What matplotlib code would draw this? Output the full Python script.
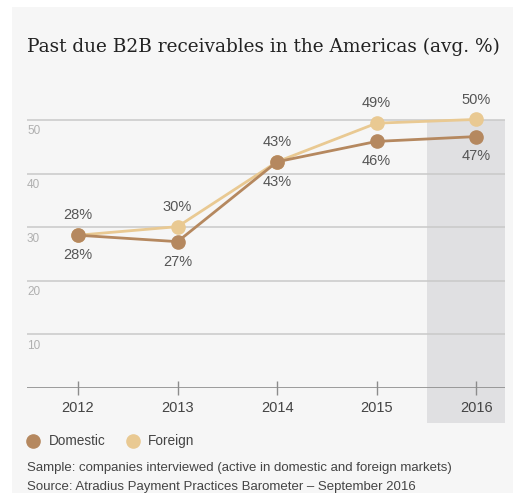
import matplotlib.pyplot as plt
from matplotlib.patches import Rectangle
from matplotlib.lines import Line2D

years = [2012, 2013, 2014, 2015, 2016]
domestic = [28.5, 27.3, 42.2, 46.0, 46.9]
foreign = [28.5, 30.1, 42.2, 49.4, 50.1]
domestic_labels = ['28%', '27%', '43%', '46%', '47%']
foreign_labels = ['28%', '30%', '43%', '49%', '50%']
yticks = [10, 20, 30, 40, 50]

title = 'Past due B2B receivables in the Americas (avg. %)'
note1 = 'Sample: companies interviewed (active in domestic and foreign markets)'
note2 = 'Source: Atradius Payment Practices Barometer \u2013 September 2016'

c_dom = '#b5885f'
c_for = '#e9c992'
bg = '#f6f6f6'
sans = ['Liberation Sans Narrow', 'Liberation Sans', 'DejaVu Sans']

W, H = 513, 493
fig = plt.figure(figsize=(W / 100, H / 100), dpi=100, facecolor='white')

# grey panel behind everything
fig.patches.append(Rectangle((12 / W, 0), 1 - 12 / W, 1 - 7 / H, transform=fig.transFigure,
                             facecolor=bg, edgecolor='none', zorder=-10))

ax = fig.add_axes([27 / W, (H - 388) / H, 478 / W, 327 / H])
ax.set_facecolor('none')
for s in ax.spines.values():
    s.set_visible(False)

ax.set_xlim(2011.487, 2016.29)
ax.set_ylim(0, 61)

# shaded current year
ax.add_patch(Rectangle((2015.507, -6.5), 2016.29 - 2015.507, 56.5, facecolor='#e0e0e2',
                       edgecolor='none', clip_on=False, zorder=0))

for v in yticks:
    ax.axhline(v, color='#c9c9c9', lw=1.1, zorder=1)
    ax.text(2011.487, v - 1.0, str(v), fontsize=8.5, color='#b0b0b0', va='top', ha='left',
            family=sans)
ax.axhline(0, color='#8c8c8c', lw=1.2, zorder=2)

ax.plot(years, foreign, color=c_for, lw=2, marker='o', ms=9.5, zorder=4)
ax.plot(years, domestic, color=c_dom, lw=2, marker='o', ms=9.5, zorder=5)

for x, y, lab in zip(years, foreign, foreign_labels):
    ax.text(x, y + 2.4, lab, ha='center', va='bottom', fontsize=10.5, color='#555555', family=sans)
for x, y, lab in zip(years, domestic, domestic_labels):
    ax.text(x, y - 2.4, lab, ha='center', va='top', fontsize=10.5, color='#555555', family=sans)

ax.set_yticks([])
ax.set_xticks(years)
ax.set_xticklabels([str(y) for y in years], fontsize=10.5, color='#444444', family=sans)
ax.tick_params(axis='x', direction='inout', length=10, width=1, color='#8c8c8c', pad=4)

fig.text(27 / W, 1 - 47 / H, title, fontsize=13.3, family='DejaVu Serif', color='#222222',
         va='center', ha='left')

fig.add_artist(Line2D([33 / W], [1 - 441 / H], marker='o', ms=9.5, color=c_dom, ls='none'))
fig.text(49 / W, 1 - 441 / H, 'Domestic', fontsize=9.8, color='#444444', va='center', family=sans)
fig.add_artist(Line2D([133 / W], [1 - 441 / H], marker='o', ms=9.5, color=c_for, ls='none'))
fig.text(148 / W, 1 - 441 / H, 'Foreign', fontsize=9.8, color='#444444', va='center', family=sans)

fig.text(27 / W, 1 - 468 / H, note1, fontsize=9.5, color='#444444', va='center', family=sans)
fig.text(27 / W, 1 - 487 / H, note2, fontsize=9.5, color='#444444', va='center', family=sans)

fig.savefig('out.png', dpi=100, facecolor=fig.get_facecolor())
